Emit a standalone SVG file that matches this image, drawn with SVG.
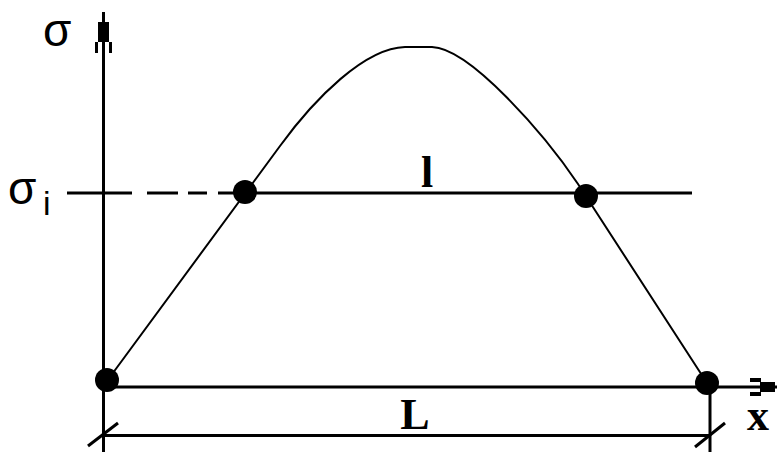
<svg xmlns="http://www.w3.org/2000/svg" width="778" height="453" viewBox="0 0 778 453">
<style>
.ln{stroke:#000;stroke-width:3;fill:none}
.cv{stroke:#000;stroke-width:2;fill:none}
.pt{fill:#000}
.sg{font-family:"Liberation Sans","DejaVu Sans",sans-serif;font-size:46px;fill:#000}
.sub{font-family:"Liberation Sans","DejaVu Sans",sans-serif;font-size:34px;fill:#000}
.lb{font-family:"Liberation Serif","DejaVu Serif",serif;font-size:44px;font-weight:bold;fill:#000}
</style>
<rect width="778" height="453" fill="#fff"/>
<g id="connectors">
  <!-- y axis -->
  <line class="ln" x1="103.5" y1="12" x2="103.5" y2="452"/>
  <rect x="98" y="22" width="11" height="20" fill="#000"/>
  <rect x="95" y="42" width="3" height="11" fill="#000"/>
  <rect x="109" y="42" width="3" height="11" fill="#000"/>
  <!-- x axis -->
  <line class="ln" x1="103" y1="387" x2="777" y2="387"/>
  <rect x="760" y="382" width="15" height="10" fill="#000"/>
  <rect x="750" y="378" width="11" height="4" fill="#000"/>
  <rect x="750" y="392" width="11" height="4" fill="#000"/>
  <!-- sigma_i level line -->
  <line class="ln" x1="67" y1="193" x2="132" y2="193"/>
  <line class="ln" x1="147" y1="193" x2="178" y2="193"/>
  <line class="ln" x1="188" y1="193" x2="207" y2="193"/>
  <line class="ln" x1="218" y1="193" x2="692" y2="193"/>
  <!-- curve -->
  <path class="cv" d="M107,381 L280,146 C315,98 365,48 405,47 L432,47 C470,48 545,135 578,184 L707,383"/>
  <!-- dimension L -->
  <line class="ln" x1="710" y1="390" x2="710" y2="452"/>
  <line class="ln" x1="103" y1="435.5" x2="710" y2="435.5"/>
  <line class="ln" x1="88" y1="446" x2="118" y2="423"/>
  <line class="ln" x1="695" y1="447" x2="725" y2="423"/>
</g>
<g id="p1"><circle class="pt" cx="107" cy="380" r="12"/></g>
<g id="p2"><circle class="pt" cx="245" cy="192" r="12"/></g>
<g id="p3"><circle class="pt" cx="586" cy="196" r="12"/></g>
<g id="p4"><circle class="pt" cx="707" cy="383" r="12"/></g>
<g id="label-sigma"><text class="sg" x="43" y="46">σ</text></g>
<g id="label-sigma-i"><text class="sg" x="8" y="204">σ</text><text class="sub" x="43" y="215">i</text></g>
<g id="label-l"><text class="lb" x="427" y="187" text-anchor="middle">l</text></g>
<g id="label-L"><text class="lb" x="415" y="429" text-anchor="middle">L</text></g>
<g id="label-x"><text class="lb" x="758" y="430" text-anchor="middle">x</text></g>
</svg>
